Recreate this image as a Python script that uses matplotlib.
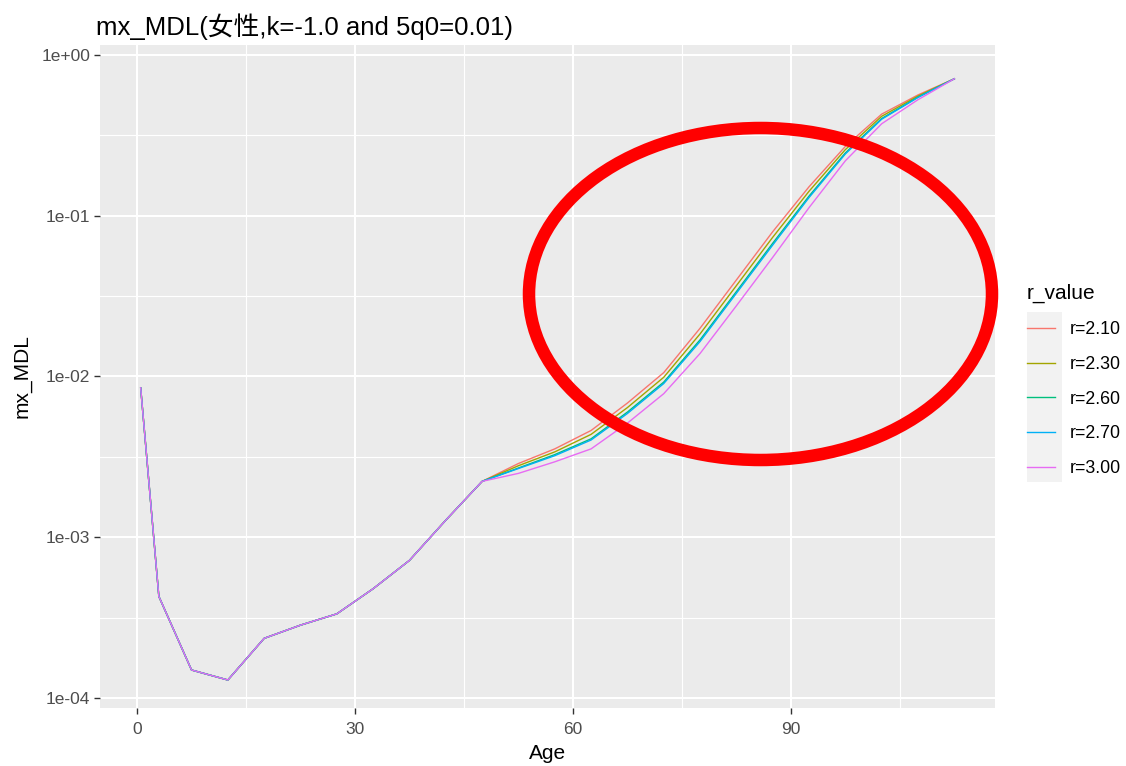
import numpy as np
import matplotlib
matplotlib.use('Agg')
import matplotlib.pyplot as plt
from matplotlib.patches import Ellipse, Rectangle
from matplotlib.ticker import FixedLocator, NullFormatter

plt.rcParams['font.family'] = ['Liberation Sans', 'Noto Sans CJK SC', 'DejaVu Sans']

# age group midpoints
ages_young = [0.5, 3, 7.5, 12.5, 17.5, 22.5, 27.5, 32.5, 37.5, 42.5]
mx_young = [0.0085, 0.00043, 0.000150, 0.000130, 0.000236, 0.000285,
            0.000335, 0.00048, 0.00072, 0.00128]

ages_old = [47.5, 52.5, 57.5, 62.5, 67.5, 72.5, 77.5, 82.5, 87.5, 92.5,
            97.5, 102.5, 107.5, 112.5]
mx_r210 = [0.00223, 0.00288, 0.00355, 0.00462, 0.00684, 0.01057, 0.01995,
           0.0398, 0.0794, 0.151, 0.269, 0.427, 0.562, 0.708]
mx_r230 = [0.00223, 0.00279, 0.00340, 0.00437, 0.00641, 0.00989, 0.0184,
           0.0367, 0.0733, 0.1416, 0.257, 0.414, 0.553, 0.708]
mx_r260 = [0.00223, 0.00270, 0.00327, 0.00410, 0.00601, 0.00923, 0.0169,
           0.0337, 0.0673, 0.1321, 0.245, 0.401, 0.545, 0.708]
mx_r270 = [0.00223, 0.00268, 0.00322, 0.00403, 0.00589, 0.00904, 0.0165,
           0.0329, 0.0656, 0.1294, 0.2415, 0.397, 0.542, 0.708]
mx_r300 = [0.00223, 0.00250, 0.00295, 0.00355, 0.00513, 0.00782, 0.0139,
           0.0275, 0.0550, 0.112, 0.219, 0.372, 0.525, 0.708]

r_labels = ['r=2.10', 'r=2.30', 'r=2.60', 'r=2.70', 'r=3.00']
series = [mx_r210, mx_r230, mx_r260, mx_r270, mx_r300]
colors = ['#F8766D', '#A3A500', '#00BF7D', '#00B0F6', '#E76BF3']

x_ticks = [0, 30, 60, 90]
x_minor = [15, 45, 75, 105]
y_ticks = [1e-4, 1e-3, 1e-2, 1e-1, 1e0]
y_ticklabels = ['1e-04', '1e-03', '1e-02', '1e-01', '1e+00']
y_minor = [10**-3.5, 10**-2.5, 10**-1.5, 10**-0.5]

fig = plt.figure(figsize=(11.26, 7.66), dpi=100)
ax = fig.add_axes([100/1126, 1-708/766, 895/1126, 663/766])
ax.set_facecolor('#EBEBEB')

handles = []
for lab, vals, c in zip(r_labels, series, colors):
    h, = ax.plot(ages_young + ages_old, mx_young + vals, color=c, lw=1.0,
                 label=lab)
    handles.append(h)

ax.set_yscale('log')
ax.set_xlim(-5.1, 118.1)
ax.set_ylim(10**-4.06, 10**0.06)
ax.set_xticks(x_ticks)
ax.set_xticklabels([str(t) for t in x_ticks])
ax.xaxis.set_minor_locator(FixedLocator(x_minor))
ax.set_yticks(y_ticks)
ax.set_yticklabels(y_ticklabels)
ax.yaxis.set_minor_locator(FixedLocator(y_minor))
ax.yaxis.set_minor_formatter(NullFormatter())

ax.grid(which='major', color='white', lw=1.5)
ax.grid(which='minor', color='white', lw=0.8)
ax.set_axisbelow(True)
for s in ax.spines.values():
    s.set_visible(False)
ax.tick_params(which='major', length=4, width=1, color='#333333',
               labelcolor='#4D4D4D', labelsize=12.5, pad=3)
ax.tick_params(axis='x', which='major', pad=6)
ax.tick_params(which='minor', length=0)

ax.set_xlabel('Age', fontsize=15, color='black', labelpad=5)
ax.set_ylabel('mx_MDL', fontsize=15, color='black', labelpad=7)
ax.set_title('mx_MDL(女性,k=-1.0 and 5q0=0.01)', fontsize=18.5, loc='left',
             x=-0.004, pad=7)

# legend
fig.add_artist(Rectangle((1027/1126, 1-482/766), 35/1126, 170/766,
                         transform=fig.transFigure, color='#F2F2F2', lw=0))
leg = fig.legend(handles, r_labels, title='r_value', loc='upper left',
                 bbox_to_anchor=(1027/1126, 1-284/766), frameon=False,
                 borderpad=0, borderaxespad=0,
                 fontsize=12.8, title_fontsize=15, handlelength=1.55,
                 handletextpad=0.85, labelspacing=1.0, alignment='left')

# red ellipse annotation
fig.add_artist(Ellipse((760.5/1126, 1-294/766), 463/1126, 332/766,
                       transform=fig.transFigure, fill=False,
                       edgecolor='#FF0000', lw=9, zorder=10))

fig.savefig('out.png', dpi=100)
